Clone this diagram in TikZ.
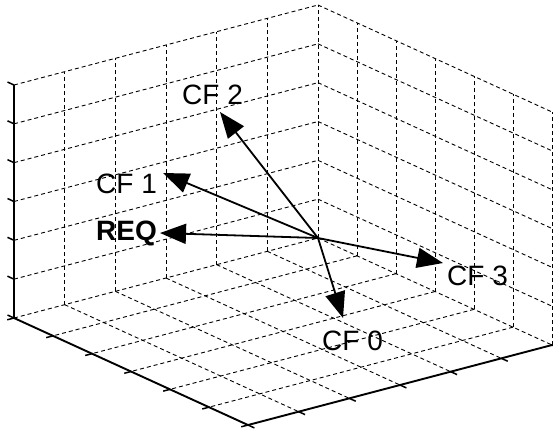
\documentclass[tikz,border=0pt]{standalone}
\usepackage{fontspec}
\setmainfont{Liberation Sans}
\usetikzlibrary{arrows.meta,calc}
\begin{document}
\begin{tikzpicture}[x=1pt,y=-1pt,
  grid/.style={draw=black, line width=0.9pt, dash pattern=on 4pt off 3pt},
  axisline/.style={draw=black, line width=1.9pt},
  tickmark/.style={draw=black, line width=1.5pt},
  vec/.style={draw=black, line width=1.8pt, -{Triangle[length=26pt,width=20pt]}},
  lab/.style={inner sep=0pt, anchor=base west, font=\fontsize{28}{30}\selectfont},
]
\useasboundingbox (0,0) rectangle (553,432);
\coordinate (L) at (14,318);
\coordinate (B) at (318,238);
\coordinate (R) at (552,345);
\coordinate (F) at (248,425);
\def\H{233}
% back walls: horizontal levels
\foreach \k in {0,...,6} {
  \draw[grid] ($(L)+(0,-\k*\H/6)$) -- ($(B)+(0,-\k*\H/6)$);
  \draw[grid] ($(B)+(0,-\k*\H/6)$) -- ($(R)+(0,-\k*\H/6)$);
}
% back walls: verticals
\foreach \i in {1,...,6} {
  \draw[grid] ($(L)!{\i/6}!(B)$) -- ++(0,-\H);
  \draw[grid] ($(B)!{\i/6}!(R)$) -- ++(0,-\H);
}
% floor
\foreach \i in {1,...,5} {
  \draw[grid] ($(L)!{\i/6}!(B)$) -- ($(F)!{\i/6}!(R)$);
  \draw[grid] ($(B)!{\i/6}!(R)$) -- ($(L)!{\i/6}!(F)$);
}
% axes
\coordinate (Ltop) at (14,85);
\draw[axisline] (Ltop) -- (L) -- (F) -- (R);
% ticks
\foreach \k in {0,...,6}
  \draw[tickmark] ($(L)+(0,-\k*\H/6)$) -- ++(-6.5,-3);
\foreach \j in {0,...,6}
  \draw[tickmark] ($(L)!{\j/6}!(F)$) -- ++(-6.8,1.8);
\foreach \i in {0,...,6}
  \draw[tickmark] ($(F)!{\i/6}!(R)$) -- ++(6.4,2.9);
% vectors
\coordinate (C) at (318,238);
\coordinate (t0) at (343,318);
\coordinate (t1) at (163,173);
\coordinate (t2) at (220,112);
\coordinate (t3) at (443,263);
\coordinate (tq) at (160,233);
\draw[vec] (C) -- (t2);
\draw[vec] (C) -- (t1);
\draw[vec] (C) -- (tq);
\draw[vec] (C) -- (t3);
\draw[vec] (C) -- (t0);
% labels
\node[lab] (cf2) at (182,104) {CF 2};
\node[lab] (cf1) at (96,193) {CF 1};
\node[lab, font=\fontsize{28}{30}\selectfont\bfseries] (req) at (96,240) {REQ};
\node[lab] (cf3) at (447,285) {CF 3};
\node[lab] (cf0) at (322,350) {CF 0};
\end{tikzpicture}
\end{document}
